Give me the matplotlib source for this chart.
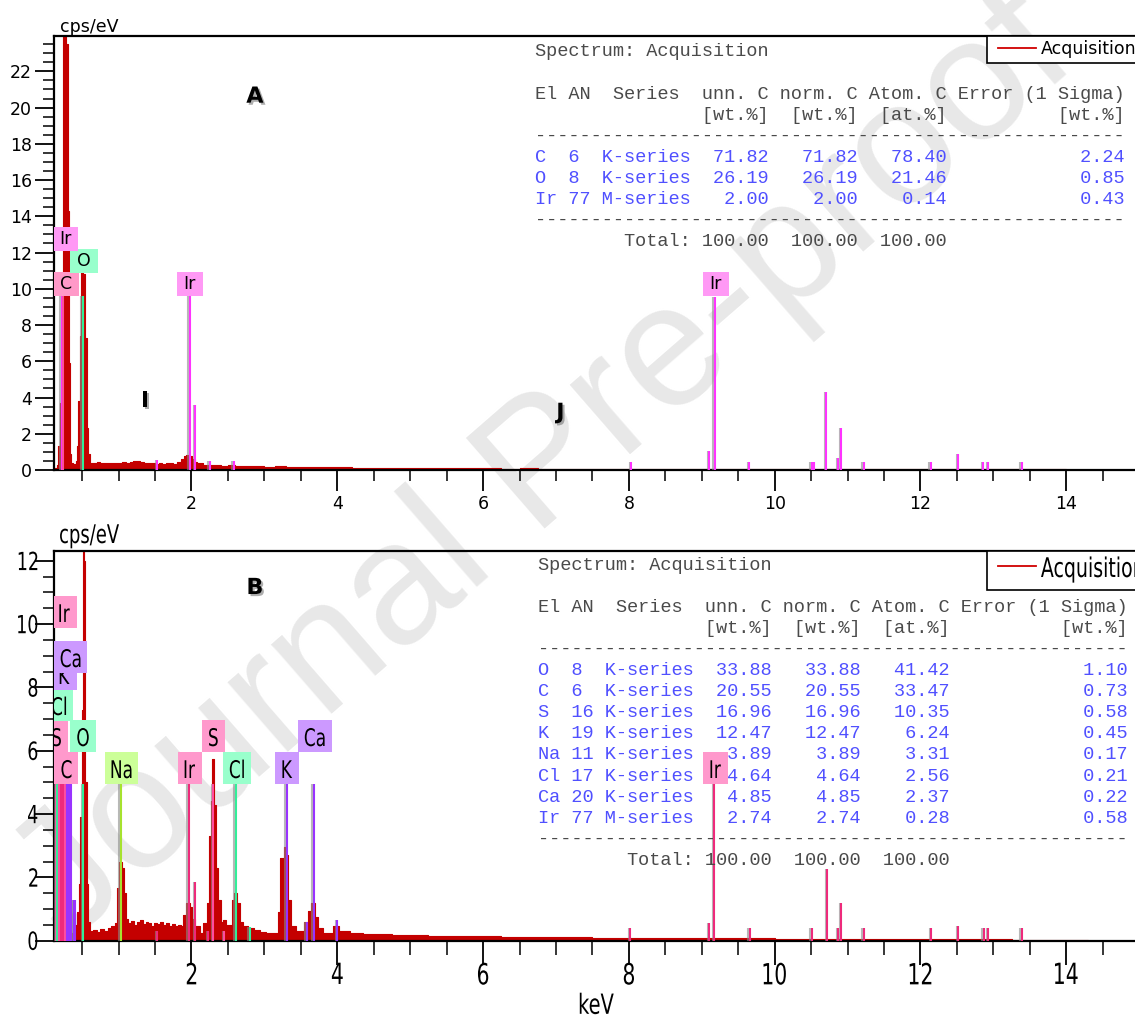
import matplotlib
matplotlib.use('Agg')

import matplotlib.pyplot as plt
import matplotlib.patheffects as pe
from matplotlib.path import Path
from matplotlib.patches import Rectangle, PathPatch
from matplotlib.lines import Line2D
from matplotlib.ticker import MultipleLocator
from matplotlib.textpath import TextPath
from matplotlib.font_manager import FontProperties
from matplotlib.transforms import Affine2D, ScaledTranslation, blended_transform_factory

# ---------------- spectrum A (keV, cps/eV), step values
energy_a = [0.12, 0.15, 0.173, 0.200, 0.242, 0.274, 0.302, 0.320, 0.333, 0.351,
            0.38, 0.41, 0.425, 0.447, 0.470, 0.489, 0.516, 0.543, 0.562, 0.584,
            0.608, 0.65, 0.70, 0.75, 0.80, 0.85, 0.90, 0.95, 1.00, 1.05,
            1.10, 1.15, 1.20, 1.25, 1.30, 1.35, 1.40, 1.45, 1.50, 1.55,
            1.60, 1.65, 1.70, 1.75, 1.80, 1.85, 1.90, 1.93, 1.97, 2.01,
            2.05, 2.08, 2.12, 2.16, 2.20, 2.25, 2.30, 2.40, 2.50, 2.60,
            2.70, 2.80, 2.90, 3.00, 3.15, 3.30, 3.45, 3.60, 3.75, 3.90,
            4.05, 4.20, 4.40, 4.60, 4.80, 5.00, 5.25, 5.50, 5.75, 6.00,
            6.25, 6.50, 6.75, 7.00, 7.25, 7.50, 7.75, 8.00, 8.25, 8.50,
            8.75, 9.00, 9.25, 9.50, 9.75, 10.00, 10.25, 10.50, 10.75, 11.00,
            11.25, 11.50, 11.75, 12.00, 12.25, 12.50, 12.75, 13.00, 13.25, 13.50,
            13.75, 14.00, 14.30]
counts_a = [0.1, 0.3, 1.3, 3.7, 25.0, 23.5, 14.3, 5.9, 0.9, 0.4,
            0.35, 0.5, 1.3, 3.8, 7.4, 10.9, 10.8, 7.3, 2.3, 0.9,
            0.4, 0.38, 0.42, 0.36, 0.40, 0.37, 0.41, 0.38, 0.40, 0.43,
            0.39, 0.42, 0.48, 0.50, 0.44, 0.40, 0.36, 0.38, 0.34, 0.37,
            0.35, 0.38, 0.36, 0.34, 0.45, 0.60, 0.78, 0.83, 0.80, 0.62,
            0.45, 0.40, 0.36, 0.30, 0.28, 0.26, 0.27, 0.24, 0.25, 0.22,
            0.23, 0.20, 0.21, 0.19, 0.20, 0.18, 0.17, 0.16, 0.15, 0.14,
            0.15, 0.13, 0.12, 0.13, 0.11, 0.12, 0.10, 0.11, 0.09, 0.10,
            0.08, 0.09, 0.08, 0.07, 0.08, 0.07, 0.06, 0.07, 0.06, 0.07,
            0.06, 0.06, 0.05, 0.06, 0.05, 0.06, 0.05, 0.05, 0.04, 0.05,
            0.04, 0.05, 0.04, 0.04, 0.03, 0.04, 0.03, 0.04, 0.03, 0.03,
            0.03, 0.02, 0.0]

# ---------------- spectrum B
energy_b = [0.12, 0.14, 0.17, 0.233, 0.288, 0.333, 0.35, 0.40, 0.434, 0.452,
            0.470, 0.494, 0.508, 0.525, 0.543, 0.562, 0.584, 0.61, 0.65, 0.70,
            0.75, 0.80, 0.85, 0.90, 0.95, 0.982, 1.005, 1.042, 1.074, 1.101,
            1.13, 1.17, 1.21, 1.25, 1.29, 1.33, 1.37, 1.41, 1.45, 1.49,
            1.53, 1.57, 1.61, 1.65, 1.69, 1.73, 1.77, 1.81, 1.85, 1.89,
            1.93, 1.98, 2.01, 2.05, 2.12, 2.16, 2.21, 2.245, 2.263, 2.285,
            2.312, 2.335, 2.367, 2.40, 2.436, 2.48, 2.55, 2.58, 2.63, 2.665,
            2.71, 2.78, 2.86, 2.94, 3.02, 3.10, 3.19, 3.22, 3.27, 3.30,
            3.33, 3.37, 3.44, 3.55, 3.60, 3.64, 3.69, 3.73, 3.80, 3.94,
            4.03, 4.17, 4.35, 4.55, 4.75, 5.00, 5.25, 5.50, 5.75, 6.00,
            6.25, 6.50, 6.75, 7.00, 7.25, 7.50, 7.75, 8.00, 8.25, 8.50,
            8.75, 9.00, 9.25, 9.50, 9.75, 10.00, 10.25, 10.50, 10.75, 11.00,
            11.25, 11.50, 11.75, 12.00, 12.25, 12.50, 12.75, 13.00, 13.25, 13.50,
            13.75, 14.00, 14.30]
counts_b = [0.2, 0.8, 2.0, 4.9, 4.5, 1.2, 0.25, 0.5, 0.9, 1.8,
            3.9, 7.3, 12.5, 12.0, 5.0, 1.8, 0.6, 0.3, 0.35, 0.28,
            0.38, 0.32, 0.40, 0.48, 0.55, 1.65, 2.5, 2.3, 1.5, 0.7,
            0.55, 0.62, 0.50, 0.58, 0.64, 0.52, 0.60, 0.55, 0.48, 0.57,
            0.52, 0.60, 0.50, 0.55, 0.47, 0.53, 0.45, 0.50, 0.46, 0.8,
            1.2, 1.05, 0.7, 0.45, 0.25, 0.55, 1.2, 3.3, 4.4, 5.75,
            4.3, 2.3, 1.3, 0.6, 0.65, 0.5, 1.3, 1.5, 1.2, 0.6,
            0.45, 0.40, 0.35, 0.28, 0.25, 0.24, 0.9, 2.6, 2.96, 2.7,
            1.3, 0.45, 0.3, 0.6, 0.95, 1.2, 0.75, 0.4, 0.25, 0.45,
            0.3, 0.25, 0.22, 0.20, 0.18, 0.17, 0.16, 0.15, 0.15, 0.14,
            0.13, 0.13, 0.12, 0.11, 0.11, 0.10, 0.10, 0.09, 0.09, 0.08,
            0.08, 0.08, 0.07, 0.07, 0.07, 0.06, 0.06, 0.06, 0.06, 0.05,
            0.05, 0.05, 0.05, 0.04, 0.05, 0.04, 0.04, 0.04, 0.03, 0.03,
            0.03, 0.03, 0.0]

# ---------------- element marker lines
lines_a_keV = [0.224, 0.242, 0.507, 1.53, 1.977, 2.05, 2.25, 2.58, 8.03, 9.10,
               9.175, 9.65, 10.51, 10.54, 10.71, 10.87, 10.91, 11.22, 12.14, 12.52,
               12.86, 12.93, 13.39]
lines_a_height = [9.6, 9.6, 9.6, 0.55, 9.6, 3.6, 0.5, 0.5, 0.46, 1.07,
                  9.55, 0.46, 0.46, 0.46, 4.33, 0.66, 2.3, 0.46, 0.46, 0.88,
                  0.46, 0.46, 0.46]
lines_a_elem = ['Ir', 'C', 'O', 'Ir', 'Ir', 'Ir', 'Ir', 'Ir', 'Ir', 'Ir',
                'Ir', 'Ir', 'Ir', 'Ir', 'Ir', 'Ir', 'Ir', 'Ir', 'Ir', 'Ir',
                'Ir', 'Ir', 'Ir']

lines_b_keV = [0.141, 0.159, 0.187, 0.215, 0.242, 0.265, 0.288, 0.32, 0.343, 0.388,
               0.402, 0.516, 1.033, 1.53, 1.965, 2.05, 2.23, 2.30, 2.45, 2.61,
               2.80, 3.31, 3.58, 3.68, 4.00, 8.02, 9.10, 9.17, 9.66, 10.51,
               10.72, 10.87, 10.91, 11.22, 12.15, 12.52, 12.87, 12.93, 13.39]
lines_b_height = [4.95, 4.95, 4.95, 4.95, 4.95, 4.95, 4.95, 4.95, 4.95, 1.3,
                  1.3, 4.95, 4.95, 0.3, 4.95, 1.86, 0.3, 4.95, 0.3, 4.95,
                  0.44, 4.95, 0.6, 4.95, 0.65, 0.39, 0.57, 4.95, 0.39, 0.39,
                  2.26, 0.39, 1.2, 0.39, 0.39, 0.45, 0.39, 0.39, 0.39]
lines_b_elem = ['S', 'Cl', 'S', 'Ir', 'Ir', 'C', 'K', 'K', 'Ca', 'Ca',
                'Ca', 'O', 'Na', 'Ir', 'Ir', 'Ir', 'Ir', 'S', 'S', 'Cl',
                'Cl', 'K', 'K', 'Ca', 'Ca', 'Ir', 'Ir', 'Ir', 'Ir', 'Ir',
                'Ir', 'Ir', 'Ir', 'Ir', 'Ir', 'Ir', 'Ir', 'Ir', 'Ir']

# ---------------- peak tags (text, keV, lift above the line top in px)
tags_a_text = ['C', 'O', 'Ir', 'Ir', 'Ir']
tags_a_keV = [0.285, 0.525, 0.265, 1.977, 9.19]
tags_a_lift = [0, 23, 45, 0, 0]

tags_b_text = ['C', 'S', 'O', 'Cl', 'K', 'Ca', 'Ir', 'Na', 'Ir', 'S', 'Cl', 'K', 'Ca', 'Ir']
tags_b_keV = [0.285, 0.149, 0.512, 0.183, 0.26, 0.341, 0.258, 1.04, 1.977, 2.30, 2.622, 3.315, 3.69, 9.19]
tags_b_lift = [0, 32, 32, 63, 94, 111, 156, 0, 0, 32, 0, 0, 32, 0]

# ---------------- quantification tables
tab_a_el = ['C', 'O', 'Ir']
tab_a_an = [6, 8, 77]
tab_a_series = ['K-series', 'K-series', 'M-series']
tab_a_unn = [71.82, 26.19, 2.00]
tab_a_norm = [71.82, 26.19, 2.00]
tab_a_atom = [78.40, 21.46, 0.14]
tab_a_err = [2.24, 0.85, 0.43]

tab_b_el = ['O', 'C', 'S', 'K', 'Na', 'Cl', 'Ca', 'Ir']
tab_b_an = [8, 6, 16, 19, 11, 17, 20, 77]
tab_b_series = ['K-series'] * 7 + ['M-series']
tab_b_unn = [33.88, 20.55, 16.96, 12.47, 3.89, 4.64, 4.85, 2.74]
tab_b_norm = [33.88, 20.55, 16.96, 12.47, 3.89, 4.64, 4.85, 2.74]
tab_b_atom = [41.42, 33.47, 10.35, 6.24, 3.31, 2.56, 2.37, 0.28]
tab_b_err = [1.10, 0.73, 0.58, 0.45, 0.17, 0.21, 0.22, 0.58]

W, H = 1135, 1019
RED = '#c40000'
MONO = 'Liberation Mono'
NARROW_FP = FontProperties(family='DejaVu Sans')
SX = 0.70   # horizontal squeeze of the lower panel's lettering

line_col_a = {'Ir': '#ff33ff', 'C': '#ff4d9e', 'O': '#33ee99'}
tag_col_a = {'Ir': '#ff99f5', 'C': '#ff99c8', 'O': '#99ffcc'}
line_col_b = {'Ir': '#ee2a7b', 'C': '#ff4d9e', 'S': '#ff4d9e', 'O': '#33ee99',
              'Cl': '#33ee99', 'Na': '#a6e22e', 'K': '#9933ff', 'Ca': '#9933ff'}
tag_col_b = {'Ir': '#ff99cc', 'C': '#ff99cc', 'S': '#ff99cc', 'O': '#99ffcc',
             'Cl': '#99ffcc', 'Na': '#ccff99', 'K': '#cc99ff', 'Ca': '#cc99ff'}


def fig_xy(x, y):
    return x / W, 1 - y / H


def tag_box(padx, pady):
    def box(x0, y0, width, height, mutation_size):
        px = padx * mutation_size
        py = pady * mutation_size
        xa, ya = x0 - px, y0 - py
        xb, yb = x0 + width + px, y0 + height + py
        return Path([(xa, ya), (xb, ya), (xb, yb), (xa, yb), (xa, ya)], closed=True)
    return box


def narrow(parent, s, x, y, trans, size, ha='center', va='baseline', dx=0, dy=0,
           zorder=5, clip=False):
    # condensed lettering: glyph outlines squeezed sideways
    tp = TextPath((0, 0), s, size=size, prop=NARROW_FP)
    ext = tp.get_extents()
    xr = {'left': ext.x0, 'center': (ext.x0 + ext.x1) / 2, 'right': ext.x1}[ha]
    yr = {'baseline': 0, 'center': (ext.y0 + ext.y1) / 2, 'top': ext.y1}[va]
    k = fig.dpi / 72
    tr = (Affine2D().translate(-xr, -yr).scale(SX * k, k).translate(dx, dy)
          + ScaledTranslation(x, y, trans))
    patch = PathPatch(tp, transform=tr, fc='black', ec='none', lw=0, zorder=zorder)
    parent.add_artist(patch)
    if not clip:
        patch.set_clip_on(False)
    return (ext.x1 - ext.x0) * SX * k


def draw_spectrum(ax, energy, counts):
    ax.fill_between(energy, counts, step='post', color=RED, lw=0, zorder=2)
    ax.step(energy, counts, where='post', color=RED, lw=0.8, zorder=2)


def draw_lines(ax, keV, height, elem, colors):
    shadow = [pe.SimpleLineShadow(offset=(-1.1, 0), shadow_color='#8a8a8a', alpha=0.6),
              pe.Normal()]
    ax.vlines(keV, 0, height, colors=[colors[e] for e in elem], lw=1.5,
              zorder=3, path_effects=shadow)


def draw_tags(ax, texts, keV, top, lift, colors, size, padx, pady):
    fs_px = size * 100 / 72
    for t, x, up in zip(texts, keV, lift):
        a = ax.annotate(t, xy=(x, top), xytext=(0, (up + pady * fs_px) * 0.72),
                        textcoords='offset points', ha='center', va='bottom',
                        fontsize=size, family='DejaVu Sans', color='black', zorder=5,
                        bbox=dict(boxstyle=tag_box(padx, pady), fc=colors[t], ec='none'),
                        annotation_clip=False)
        a.set_clip_path(ax.patch)


def draw_tags_narrow(ax, texts, keV, top, lift, colors, size, hb=32, padx=7, base=6):
    for i, (t, x, up) in enumerate(zip(texts, keV, lift)):
        z = 5 + 0.01 * i
        w = narrow(ax, t, x, top, ax.transData, size, ha='center', va='baseline',
                   dy=up + base, zorder=z + 0.005, clip=True)
        box = Rectangle((-w / 2 - padx, up), w + 2 * padx, hb,
                        transform=ScaledTranslation(x, top, ax.transData),
                        fc=colors[t], ec='none', zorder=z)
        ax.add_artist(box)


def draw_table(x0, y0, el, an, series, unn, norm, atom, err):
    dy = 21.1
    head = '#4a4a4a'
    blue = '#5050ff'
    txt = dict(family=MONO, fontsize=13.4, va='center', ha='left')
    fig.text(*fig_xy(x0, y0), 'Spectrum: Acquisition', color=head, **txt)
    fig.text(*fig_xy(x0, y0 + 2 * dy), 'El AN  Series  unn. C norm. C Atom. C Error (1 Sigma)',
             color=head, **txt)
    fig.text(*fig_xy(x0, y0 + 3 * dy), ' ' * 15 + '[wt.%]  [wt.%]  [at.%]' + ' ' * 10 + '[wt.%]',
             color=head, **txt)
    fig.text(*fig_xy(x0, y0 + 4 * dy), '-' * 53, color=head, **txt)
    y = y0 + 5 * dy
    for i in range(len(el)):
        row = f"{el[i]:<3}{an[i]:<3}{series[i]:<8}{unn[i]:>7.2f}{norm[i]:>8.2f}{atom[i]:>8.2f}{err[i]:>16.2f}"
        fig.text(*fig_xy(x0, y), row, color=blue, **txt)
        y += dy
    fig.text(*fig_xy(x0, y), '-' * 53, color=head, **txt)
    fig.text(*fig_xy(x0, y + dy), ' ' * 8 + 'Total:' + f"{100:>7.2f}{100:>8.2f}{100:>8.2f}",
             color=head, **txt)


def draw_legend_box(x0, y0, x1, y1, ly):
    (fx0, fy0), (fx1, fy1) = fig_xy(x0, y1), fig_xy(x1, y0)
    fig.add_artist(Rectangle((fx0, fy0), fx1 - fx0, fy1 - fy0, transform=fig.transFigure,
                             fc='white', ec='black', lw=1.2, zorder=6))
    lx0, lyy = fig_xy(x0 + 11, ly)
    lx1, _ = fig_xy(x0 + 49, ly)
    fig.add_artist(Line2D([lx0, lx1], [lyy, lyy], transform=fig.transFigure,
                          color='#d00000', lw=1.3, zorder=7))


def style_axes(ax, ymax, xlen, ylen, labelsize):
    ax.set_xlim(0.118, 15.0)
    ax.set_ylim(0, ymax)
    ax.set_facecolor('none')
    for s in ax.spines.values():
        s.set_linewidth(1.6)
    ax.xaxis.set_major_locator(MultipleLocator(2))
    ax.xaxis.set_minor_locator(MultipleLocator(0.5))
    ax.yaxis.set_major_locator(MultipleLocator(2))
    ax.yaxis.set_minor_locator(MultipleLocator(0.5))
    ax.tick_params(axis='x', which='major', direction='out', length=xlen[0], width=1.3,
                   pad=3, labelsize=labelsize)
    ax.tick_params(axis='x', which='minor', direction='out', length=xlen[1], width=1.1)
    ax.tick_params(axis='y', which='major', direction='out', length=ylen[0], width=1.3,
                   pad=2, labelsize=labelsize)
    ax.tick_params(axis='y', which='minor', direction='out', length=ylen[1], width=1.1)


fig = plt.figure(figsize=(W / 100, H / 100), dpi=100)

ax_left = 54.3 / W
ax_width = (1139.2 - 54.3) / W
ax_a = fig.add_axes([ax_left, 1 - 470 / H, ax_width, (470 - 36) / H])
ax_b = fig.add_axes([ax_left, 1 - 940.7 / H, ax_width, (940.7 - 551) / H])

# panel A
draw_spectrum(ax_a, energy_a, counts_a)
draw_lines(ax_a, lines_a_keV, lines_a_height, lines_a_elem, line_col_a)
draw_tags(ax_a, tags_a_text, tags_a_keV, 9.6, tags_a_lift, tag_col_a, 12.5, 0.4, 0.16)
style_axes(ax_a, 23.95, (15, 8), (14, 8), 12.5)
ax_a.text(0.005, 1.0, 'cps/eV', transform=ax_a.transAxes, fontsize=12.5,
          family='DejaVu Sans', ha='left', va='bottom')

# panel B
draw_spectrum(ax_b, energy_b, counts_b)
draw_lines(ax_b, lines_b_keV, lines_b_height, lines_b_elem, line_col_b)
draw_tags_narrow(ax_b, tags_b_text, tags_b_keV, 4.95, tags_b_lift, tag_col_b, 17.5)
style_axes(ax_b, 12.31, (17, 10), (14, 8), 12)
ax_b.tick_params(labelbottom=False, labelleft=False)
xb_trans = blended_transform_factory(ax_b.transData, ax_b.transAxes)
yb_trans = blended_transform_factory(ax_b.transAxes, ax_b.transData)
for v in range(2, 15, 2):
    narrow(ax_b, str(v), v, 0, xb_trans, 21, ha='center', va='top', dy=-22)
for v in range(0, 13, 2):
    narrow(ax_b, str(v), 0, v, yb_trans, 18, ha='right', va='center', dx=-17)
narrow(ax_b, 'keV', 0.5, 0, ax_b.transAxes, 20, ha='center', va='top', dy=-52)
narrow(ax_b, 'cps/eV', 0.0053, 1, ax_b.transAxes, 18.5, ha='left', va='baseline', dy=8)

# panel letters
shadow_txt = [pe.withSimplePatchShadow(offset=(1.5, -1.5), shadow_rgbFace='#777777', alpha=0.6)]
for ax, t, x, y in [(ax_a, 'A', 2.87, 20.6), (ax_a, 'I', 1.36, 3.8),
                    (ax_a, 'J', 7.06, 3.15), (ax_b, 'B', 2.87, 11.14)]:
    ax.text(x, y, t, fontsize=16, fontweight='bold', family='DejaVu Sans',
            ha='center', va='center', zorder=6, path_effects=shadow_txt)

# tables and legends
draw_table(535, 52, tab_a_el, tab_a_an, tab_a_series, tab_a_unn, tab_a_norm, tab_a_atom, tab_a_err)
draw_table(538, 565, tab_b_el, tab_b_an, tab_b_series, tab_b_unn, tab_b_norm, tab_b_atom, tab_b_err)
draw_legend_box(986.7, 36, 1145, 63, 48)
fig.text(*fig_xy(1041, 49), 'Acquisition', fontsize=12.5, family='DejaVu Sans',
         va='center', ha='left', zorder=7)
draw_legend_box(987, 551, 1145, 590, 566)
narrow(fig, 'Acquisition', 1041 / W, 1 - 577 / H, fig.transFigure, 19.5,
       ha='left', va='baseline', zorder=7)

# watermark
fig.text(0.48, 0.54, 'Journal Pre-proof', fontsize=125, family='Liberation Sans',
         color='#e8e8e8', rotation=41, ha='center', va='center',
         rotation_mode='anchor', zorder=-5)

fig.savefig('out.png', dpi=100)
